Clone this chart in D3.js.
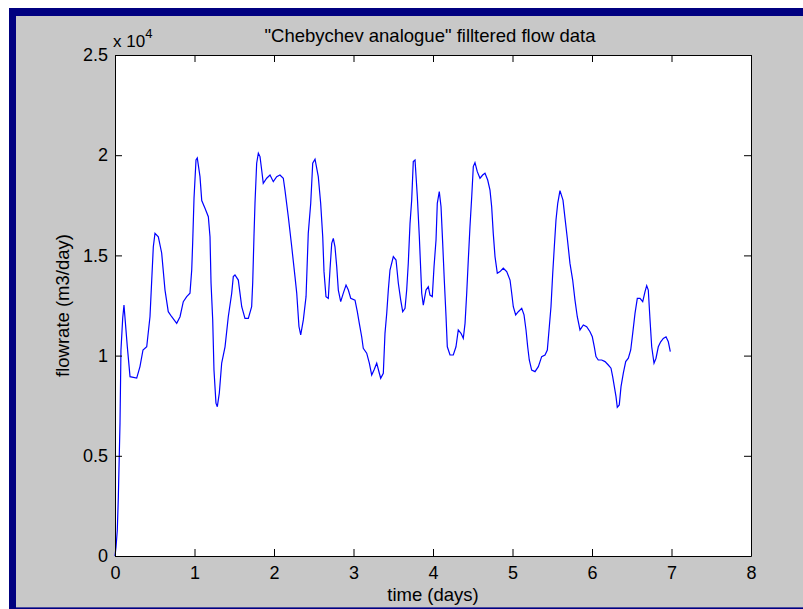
<!DOCTYPE html>
<html>
<head>
<meta charset="utf-8">
<script src="https://cdn.jsdelivr.net/npm/d3@7"></script>
<style>
  body { margin: 0; background: #fff; }
  text { font-family: "Liberation Sans", Arial, sans-serif; fill: #000; }
</style>
</head>
<body>
<svg id="chart" width="803" height="609"></svg>
<script>
const title = '"Chebychev analogue" filltered flow data'
const xLabel = 'time (days)'
const yLabel = 'flowrate (m3/day)'
const xTicks = [0, 1, 2, 3, 4, 5, 6, 7, 8]
const yTicks = [0, 5000, 10000, 15000, 20000, 25000]

// time in days
const days = [0, 0.013, 0.029, 0.042, 0.063, 0.075, 0.097, 0.113, 0.155, 0.189,
  0.273, 0.314, 0.352, 0.399, 0.440, 0.462, 0.482, 0.503, 0.545, 0.587,
  0.629, 0.670, 0.713, 0.776, 0.818, 0.859, 0.902, 0.943, 0.965, 0.977,
  0.994, 1.019, 1.035, 1.069, 1.091, 1.132, 1.174, 1.195, 1.208, 1.229,
  1.245, 1.270, 1.287, 1.312, 1.342, 1.384, 1.425, 1.468, 1.488, 1.509,
  1.551, 1.594, 1.635, 1.677, 1.719, 1.732, 1.748, 1.761, 1.782, 1.803,
  1.824, 1.845, 1.865, 1.908, 1.950, 1.991, 2.034, 2.075, 2.117, 2.138,
  2.180, 2.223, 2.264, 2.286, 2.314, 2.336, 2.369, 2.403, 2.431, 2.462,
  2.487, 2.516, 2.557, 2.587, 2.613, 2.629, 2.654, 2.683, 2.704, 2.726,
  2.746, 2.767, 2.789, 2.809, 2.839, 2.872, 2.906, 2.935, 2.965, 3.019,
  3.048, 3.073, 3.103, 3.123, 3.166, 3.199, 3.229, 3.258, 3.292, 3.325,
  3.342, 3.375, 3.396, 3.418, 3.438, 3.459, 3.501, 3.535, 3.564, 3.594,
  3.619, 3.648, 3.669, 3.689, 3.711, 3.732, 3.752, 3.774, 3.803, 3.828,
  3.858, 3.878, 3.912, 3.941, 3.962, 3.991, 4.013, 4.038, 4.054, 4.079,
  4.101, 4.122, 4.142, 4.164, 4.180, 4.214, 4.255, 4.289, 4.318, 4.352,
  4.381, 4.403, 4.424, 4.444, 4.465, 4.487, 4.507, 4.528, 4.557, 4.591,
  4.625, 4.654, 4.688, 4.717, 4.738, 4.758, 4.780, 4.809, 4.843, 4.884,
  4.927, 4.969, 4.990, 5.010, 5.040, 5.073, 5.116, 5.145, 5.170, 5.191,
  5.211, 5.241, 5.283, 5.325, 5.367, 5.409, 5.438, 5.463, 5.484, 5.506,
  5.526, 5.547, 5.569, 5.597, 5.635, 5.660, 5.689, 5.723, 5.757, 5.786,
  5.815, 5.849, 5.891, 5.933, 5.975, 6.004, 6.029, 6.050, 6.079, 6.122,
  6.164, 6.205, 6.239, 6.260, 6.281, 6.302, 6.318, 6.343, 6.365, 6.394,
  6.424, 6.457, 6.487, 6.512, 6.541, 6.570, 6.604, 6.638, 6.667, 6.688,
  6.708, 6.730, 6.751, 6.780, 6.805, 6.834, 6.864, 6.897, 6.931, 6.960,
  6.985]

// flow in m3/day
const flow = [0, 450, 1300, 2940, 6640, 10280, 11880, 12520, 10440, 8950,
  8880, 9450, 10280, 10440, 11940, 13770, 15430, 16100, 15930, 15120,
  13270, 12190, 11940, 11610, 11940, 12690, 12940, 13110, 14270, 15620,
  17860, 19760, 19860, 18930, 17740, 17350, 16930, 15930, 13620, 11780,
  9280, 7630, 7450, 8130, 9630, 10440, 11940, 13110, 13940, 14020,
  13770, 12440, 11860, 11860, 12440, 13620, 15930, 17610, 19600, 20100,
  19930, 19260, 18600, 18850, 19010, 18680, 18930, 19010, 18850, 18260,
  16930, 15430, 13940, 13110, 11450, 11030, 11780, 12940, 16100, 17600,
  19600, 19800, 18930, 17600, 15930, 14190, 12940, 12860, 14270, 15600,
  15850, 15430, 14440, 13270, 12690, 13120, 13520, 13270, 12860, 12770,
  12190, 11610, 10940, 10360, 10120, 9620, 9030, 9280, 9620, 9120,
  8870, 9120, 11110, 12110, 13270, 14270, 14940, 14770, 13610, 12770,
  12190, 12360, 13270, 14600, 16600, 17760, 19680, 19760, 17930, 15930,
  13110, 12520, 13270, 13440, 13020, 12940, 14440, 15770, 17600, 18180,
  17430, 15600, 13770, 11940, 10440, 10030, 10030, 10440, 11280, 11110,
  10860, 11610, 13110, 14770, 16430, 17930, 19430, 19630, 19180, 18850,
  19010, 19100, 18760, 18260, 17430, 16100, 14940, 14110, 14190, 14360,
  14190, 13770, 13110, 12440, 12030, 12190, 12360, 12030, 11280, 10440,
  9780, 9280, 9200, 9450, 9950, 10030, 10280, 11440, 12440, 14110,
  15430, 16770, 17600, 18230, 17760, 16870, 15870, 14600, 13770, 12770,
  11940, 11280, 11530, 11440, 11190, 10940, 10440, 9950, 9780, 9780,
  9700, 9530, 9370, 8950, 8450, 7950, 7420, 7540, 8450, 9120,
  9700, 9870, 10280, 11110, 12110, 12860, 12860, 12690, 13190, 13490,
  13270, 11780, 10440, 9620, 9870, 10440, 10690, 10860, 10940, 10690,
  10200]

const svg = d3.select('#chart')

// window frame
svg.append('rect').attr('x', 9).attr('y', 8).attr('width', 794).attr('height', 601).attr('fill', '#000080')
svg.append('rect').attr('x', 16).attr('y', 16).attr('width', 787).attr('height', 591).attr('fill', '#c8c8c8')
svg.append('rect').attr('x', 16).attr('y', 607).attr('width', 787).attr('height', 1).attr('fill', '#4a4aa0')

const plot = { left: 115, right: 751, top: 55, bottom: 556 }

const x = d3.scaleLinear().domain([0, 8]).range([plot.left, plot.right])
const y = d3.scaleLinear().domain([0, 25000]).range([plot.bottom, plot.top])

svg.append('rect')
  .attr('x', plot.left).attr('y', plot.top)
  .attr('width', plot.right - plot.left).attr('height', plot.bottom - plot.top)
  .attr('fill', '#fff')

const line = d3.line()
  .x((d, i) => x(days[i]))
  .y(d => y(d))

svg.append('path')
  .datum(flow)
  .attr('fill', 'none')
  .attr('stroke', '#0000ff')
  .attr('stroke-width', 1.2)
  .attr('d', line)

const fontSize = 18

function styleAxis(g) {
  g.select('.domain').attr('stroke', '#000').attr('stroke-width', 1)
  g.selectAll('.tick line').attr('stroke', '#000')
  g.selectAll('text').style('font-size', fontSize + 'px').attr('fill', '#000')
}

svg.append('g')
  .attr('transform', `translate(0,${plot.bottom})`)
  .call(d3.axisBottom(x).tickValues(xTicks).tickSizeInner(-7).tickSizeOuter(0).tickPadding(10).tickFormat(d3.format('d')))
  .call(styleAxis)
  .call(g => g.selectAll('text').attr('y', 10))

svg.append('g')
  .attr('transform', `translate(0,${plot.top})`)
  .call(d3.axisTop(x).tickValues(xTicks).tickSizeInner(-7).tickSizeOuter(0).tickFormat(''))
  .call(styleAxis)

svg.append('g')
  .attr('transform', `translate(${plot.left},0)`)
  .call(d3.axisLeft(y).tickValues(yTicks).tickSizeInner(-7).tickSizeOuter(0).tickPadding(7).tickFormat(d => d / 1e4))
  .call(styleAxis)
  .call(g => g.selectAll('text').attr('x', -7))

svg.append('g')
  .attr('transform', `translate(${plot.right},0)`)
  .call(d3.axisRight(y).tickValues(yTicks).tickSizeInner(-7).tickSizeOuter(0).tickFormat(''))
  .call(styleAxis)

// exponent marker
const expo = svg.append('text')
  .attr('x', plot.left - 2).attr('y', 47)
  .style('font-size', '17px')
expo.append('tspan').text('x 10')
expo.append('tspan').attr('dy', -9).style('font-size', '13px').text('4')

svg.append('text')
  .attr('x', (plot.left + plot.right) / 2 - 3).attr('y', 42)
  .attr('text-anchor', 'middle')
  .style('font-size', '18.5px')
  .text(title)

svg.append('text')
  .attr('x', (plot.left + plot.right) / 2).attr('y', 601)
  .attr('text-anchor', 'middle')
  .style('font-size', '18.5px')
  .text(xLabel)

svg.append('text')
  .attr('transform', `translate(69,${(plot.top + plot.bottom) / 2}) rotate(-90)`)
  .attr('text-anchor', 'middle')
  .style('font-size', '18.5px')
  .text(yLabel)
</script>
</body>
</html>
